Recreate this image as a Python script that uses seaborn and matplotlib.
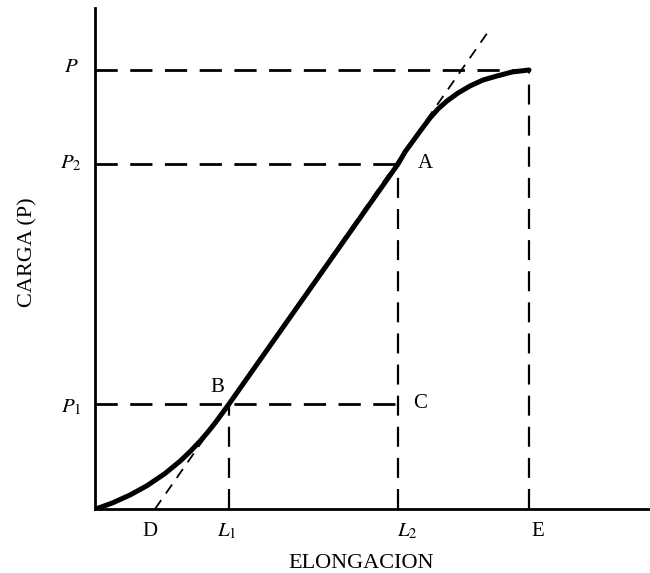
import numpy as np
import pandas as pd
import matplotlib
matplotlib.use("Agg")
import matplotlib.pyplot as plt
import seaborn as sns

# Curva carga-elongacion (unidades arbitrarias)
elong = [0.0, 0.5, 1.8, 3.5, 5.2, 7.0, 8.5, 9.5, 10.5, 11.3, 12.0, 12.7, 13.4,
         30.3, 31.0, 31.8, 32.6, 33.5, 34.3, 35.2, 36.3, 37.5, 38.8, 40.2,
         41.7, 43.4]
carga = [0.0, 0.15, 0.63, 1.4, 2.33, 3.55, 4.78, 5.73, 6.78, 7.71, 8.59,
         9.54, 10.5,
         34.5, 35.7, 36.8, 37.9, 39.1, 40.0, 40.8, 41.6, 42.3, 42.9, 43.3,
         43.7, 43.9]

# Recta tangente que pasa por D, B y A
tang_x = [6.0, 39.3]
tang_y = [0.0, 47.7]

# Niveles de referencia
niveles_p = [43.9, 34.5, 10.5]          # P, P2, P1
limite_p = [43.4, 30.3, 30.3]           # hasta donde llega cada linea
niveles_l = [13.4, 30.3, 43.4]          # L1, L2, E
altura_l = [10.5, 34.5, 43.9]

etiquetas_y = [r"$P$", r"$P_2$", r"$P_1$"]
etiquetas_x = ["D", r"$L_1$", r"$L_2$", "E"]
pos_etq_x = [5.5, 13.2, 31.2, 44.3]
puntos = ["B", "A", "C"]
pos_puntos = [(12.2, 12.2), (33.0, 34.6), (32.5, 10.6)]

sns.set_theme(style="white")
plt.rcParams['font.family'] = ['Liberation Serif', 'DejaVu Serif']
plt.rcParams['mathtext.fontset'] = 'stix'
plt.rcParams['text.color'] = 'black'

fig = plt.figure(figsize=(6.5, 5.73), dpi=100)
ax = fig.add_axes([95 / 650, 64 / 573, 555 / 650, 501 / 573])

df = pd.DataFrame({'ELONGACION': elong, 'CARGA': carga})

# lineas de referencia punteadas
ax.hlines(niveles_p, 0, limite_p, colors='black', lw=2.0,
          linestyles=(0, (8, 4.5)))
ax.vlines(niveles_l, 0, altura_l, colors='black', lw=1.6,
          linestyles=(0, (9, 5)))

sns.lineplot(x=tang_x, y=tang_y, ax=ax, color='black', lw=1.3,
             linestyle=(0, (6, 4.5)))
sns.lineplot(data=df, x='ELONGACION', y='CARGA', ax=ax, sort=False,
             estimator=None, color='black', lw=3.6,
             solid_joinstyle='round', solid_capstyle='round')

ax.set_xlim(0, 55.5)
ax.set_ylim(0, 50.1)
ax.set_xticks([])
ax.set_yticks([])
ax.set_xlabel('')
ax.set_ylabel('')
sns.despine(ax=ax)
for s in ['left', 'bottom']:
    ax.spines[s].set_linewidth(2.0)
    ax.spines[s].set_color('black')

for txt, yv in zip(etiquetas_y, [44.1, 34.6, 10.2]):
    ax.text(-2.4, yv, txt, ha='center', va='center', fontsize=15)
for txt, xv in zip(etiquetas_x, pos_etq_x):
    ax.text(xv, -2.2, txt, ha='center', va='center', fontsize=15)
for txt, (xv, yv) in zip(puntos, pos_puntos):
    ax.text(xv, yv, txt, ha='center', va='center', fontsize=15)

ax.text(26.6, -5.4, 'ELONGACION', ha='center', va='center', fontsize=16)
ax.text(-6.7, 25.7, 'CARGA (P)', ha='center', va='center', fontsize=16,
        rotation=90)

fig.savefig('out.png', dpi=100)
